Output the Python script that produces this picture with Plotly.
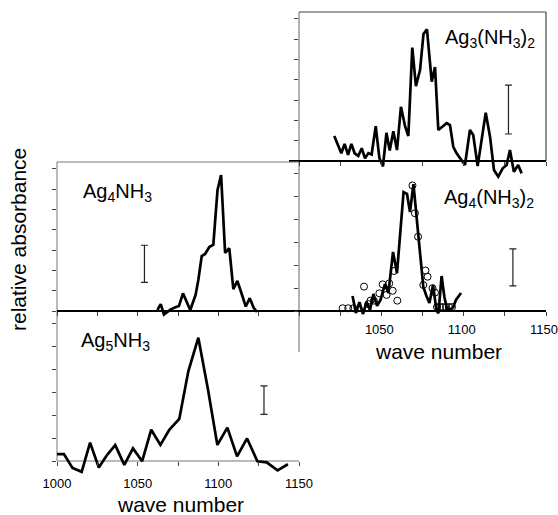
import plotly.graph_objects as go

W, H = 558, 515

# ---------------- data ----------------
# Ag3(NH3)2 (upper right)
a_wn = [1021.4, 1025.7, 1027.7, 1029.8, 1031.8, 1033.8, 1036.0, 1038.1, 1040.1, 1042.1,
        1044.1, 1046.6, 1048.8, 1051.0, 1053.1, 1055.1, 1057.3, 1059.5, 1061.9, 1064.4,
        1066.4, 1068.8, 1071.0, 1073.5, 1075.6, 1077.7, 1080.6, 1082.6, 1084.6, 1087.3,
        1089.7, 1091.7, 1093.7, 1095.7, 1098.8, 1100.8, 1103.8, 1105.8, 1108.5, 1113.4,
        1116.0, 1118.4, 1121.0, 1123.7, 1126.1, 1128.1, 1130.5, 1133.1, 1135.2]
a_abs = [1.23, 0.38, 0.84, 0.30, 0.84, 0.38, 0.25, 0.63, 0.13, 0.39,
         0.32, 1.72, 0.15, -0.27, 1.39, 0.52, 1.46, 0.54, 2.67, 1.72,
         1.23, 5.59, 3.69, 4.48, 6.26, 6.49, 3.91, 4.63, 1.53, 1.69,
         1.86, 1.77, 0.70, 0.38, 0.05, -0.20, 1.53, 1.28, -0.25, 2.38,
         1.20, -0.44, -0.77, -0.36, -0.20, 0.54, -0.53, -0.20, -0.61]

# Ag4(NH3)2 (middle right): line + open circles
b_wn = [1032.5, 1034.6, 1036.7, 1038.9, 1041.0, 1043.1, 1045.2, 1047.4, 1049.5, 1052.2,
        1054.3, 1057.1, 1059.5, 1063.5, 1065.6, 1067.4, 1069.5, 1075.5, 1077.4, 1079.2,
        1081.4, 1083.5, 1084.7, 1086.6, 1088.3, 1089.9, 1091.7, 1093.7, 1095.3, 1098.4]
b_abs = [0.65, -0.09, 0.39, -0.13, 0.39, 0.04, 0.74, 0.22, 0.48, 1.17,
         0.78, 2.57, 1.65, 5.17, 5.09, 4.30, 5.52, 1.04, 0.65, 0.35,
         1.13, 0.00, -0.09, 1.52, 0.61, 0.09, 0.04, 0.17, 0.48, 0.78]
b_circ_wn = [1026.5, 1029.9, 1033.0, 1039.5, 1042.1, 1043.4, 1045.5, 1048.8, 1050.8, 1053.2,
             1054.8, 1056.9, 1057.7, 1059.7, 1068.9, 1070.4, 1072.3, 1075.5, 1076.8, 1078.1,
             1081.1, 1082.6, 1083.8, 1085.6, 1087.4, 1089.3, 1091.1, 1092.9]
b_circ_abs = [0.12, 0.12, 0.12, 1.06, 0.30, 0.45, 0.45, 0.77, 1.16, 0.70,
              1.20, 0.88, 1.74, 0.45, 5.46, 4.25, 3.23, 1.13, 1.76, 1.49,
              0.99, 0.80, 0.17, 0.17, 0.17, 0.17, 0.17, 0.17]

# Ag4NH3 (middle left)
c_wn = [1062.2, 1064.3, 1066.3, 1070.5, 1073.8, 1075.6, 1078.1, 1080.6, 1082.6, 1085.9,
        1087.6, 1089.7, 1091.8, 1094.4, 1096.9, 1099.5, 1101.7, 1104.2, 1106.8, 1109.3,
        1111.8, 1114.5, 1117.0, 1119.5, 1121.9, 1124.0]
c_abs = [0.05, 0.34, -0.17, 0.08, 0.20, 0.25, 0.87, 0.46, 0.05, 0.79,
         1.53, 2.71, 2.81, 3.15, 3.27, 5.96, 6.70, 2.86, 3.09, 1.08,
         1.48, 0.84, 0.22, 0.63, 0.16, -0.05]

# Ag5NH3 (lower left)
d_wn = [999.8, 1004.3, 1009.6, 1015.3, 1020.5, 1025.9, 1030.8, 1036.1, 1041.7, 1047.1,
        1052.8, 1058.4, 1064.1, 1069.6, 1075.8, 1081.4, 1087.6, 1093.5, 1099.4, 1105.6,
        1111.6, 1117.8, 1124.2, 1130.0, 1136.7, 1143.1]
d_abs = [0.30, 0.30, -0.30, -0.47, 0.80, -0.28, 0.24, 0.69, -0.17, 0.55,
         -0.01, 1.36, 0.70, 1.36, 1.83, 3.90, 5.36, 3.14, 0.70, 1.45,
         0.20, 0.98, -0.01, -0.06, -0.41, -0.14]

# scale bars (centre wavenumber, centre value, half length)
bar_wn = [1127.2, 1129.9, 1054.2, 1128.3]
bar_mid = [2.535, 1.895, 2.325, 2.65]
bar_half = [1.205, 0.805, 0.915, 0.62]

labels = ["Ag<sub>3</sub>(NH<sub>3</sub>)<sub>2</sub>",
          "Ag<sub>4</sub>(NH<sub>3</sub>)<sub>2</sub>",
          "Ag<sub>4</sub>NH<sub>3</sub>",
          "Ag<sub>5</sub>NH<sub>3</sub>"]
x_ticks = [1000, 1025, 1050, 1075, 1100, 1125, 1150]

# ---------------- layout geometry (pixels) ----------------
def px(x):
    return x / W

def py(y):
    return 1 - y / H

LX0, LX1 = 57, 299      # left column x extent
RX0, RX1 = 299, 546     # right column x extent
# panel: (x0, x1, top, zero, bottom_ext, px_per_unit, n_ticks)
panels = [
    (RX0, RX1, 12, 161, 190, 20.3, 7),
    (RX0, RX1, 161, 311, 330, 23.0, 6),
    (LX0, LX1, 162, 311, 330, 20.3, 7),
    (LX0, LX1, 311, 461, 485, 23.0, 6),
]
show_labels = [False, True, False, True]
label_standoff = [0, 2, 0, 6]
label_shift = [0, -2, 0, 0]

fig = go.Figure()
FONT = "Liberation Sans, Arial, sans-serif"
series = [(a_wn, a_abs), (b_wn, b_abs), (c_wn, c_abs), (d_wn, d_abs)]

layout = dict(width=W, height=H, margin=dict(l=0, r=0, t=0, b=0, pad=0, autoexpand=False),
              paper_bgcolor="white", plot_bgcolor="rgba(0,0,0,0)", showlegend=False,
              font=dict(family=FONT, color="black"))

for i, (x0, x1, top, zero, bot, ppu, nt) in enumerate(panels):
    n = "" if i == 0 else str(i + 1)
    xa, ya = "x" + n, "y" + n
    wn, ab = series[i]
    fig.add_trace(go.Scatter(x=wn, y=ab, mode="lines", xaxis=xa, yaxis=ya,
                             line=dict(color="black", width=2.7)))
    if i == 1:
        fig.add_trace(go.Scatter(x=b_circ_wn, y=b_circ_abs, mode="markers", xaxis=xa, yaxis=ya,
                                 marker=dict(symbol="circle-open", size=7, color="black",
                                             line=dict(width=1))))
    fig.add_trace(go.Scatter(x=[bar_wn[i]], y=[bar_mid[i]], mode="markers", xaxis=xa, yaxis=ya,
                             marker=dict(size=1, opacity=0),
                             error_y=dict(type="data", array=[bar_half[i]], width=3.5,
                                          thickness=1.2, color="#222")))
    if show_labels[i]:
        ttext = [str(v) if v % 50 == 0 and not (i == 1 and v == 1000) else "" for v in x_ticks]
    else:
        ttext = ["" for v in x_ticks]
    layout["xaxis" + n] = dict(domain=[px(x0), px(x1)], range=[1000, 1150], anchor="free",
                               position=py(zero), showgrid=False, zeroline=False, showline=False,
                               ticks="outside", ticklen=4, tickwidth=1, tickcolor="#444",
                               tickvals=x_ticks, ticktext=ttext, automargin=False,
                               ticklabeloverflow="allow",
                               ticklabelstandoff=label_standoff[i],
                               ticklabelshift=label_shift[i],
                               tickfont=dict(size=13, family=FONT, color="black"))
    layout["yaxis" + n] = dict(domain=[py(bot), py(top)],
                               range=[(zero - bot) / ppu, (zero - top) / ppu],
                               anchor=xa, showgrid=False, zeroline=False, showline=False,
                               ticks="outside", ticklen=4, tickwidth=1, tickcolor="#444",
                               tickvals=list(range(nt + 1)), showticklabels=False,
                               automargin=False)

fig.update_layout(**layout)

# frame lines
def hline(x0, x1, y, color, w):
    fig.add_shape(type="line", xref="paper", yref="paper", x0=px(x0), x1=px(x1),
                  y0=py(y), y1=py(y), line=dict(color=color, width=w), layer="below")

def vline(x, y0, y1, color, w):
    fig.add_shape(type="line", xref="paper", yref="paper", x0=px(x), x1=px(x),
                  y0=py(y0), y1=py(y1), line=dict(color=color, width=w), layer="below")

hline(RX0, RX1, 12, "#444", 1.2)
vline(RX1, 12, 161, "#444", 1.2)
vline(RX0, 12, 352, "#666", 1)
hline(289, RX1, 161, "black", 2)
hline(LX0, LX1, 162, "#777", 1)
vline(LX0, 162, 461, "#777", 1)
hline(LX0, RX1, 311, "black", 1.8)
hline(LX0, LX1, 461, "#777", 1.2)

# panel labels
lab_pos = [(443, 39), (442, 199), (81, 192), (79, 341)]
for (lx, ly), t in zip(lab_pos, labels):
    fig.add_annotation(x=px(lx), y=py(ly), xref="paper", yref="paper", text=t,
                       showarrow=False, xanchor="left", yanchor="middle",
                       font=dict(size=20, family=FONT, color="black"))

# axis titles
fig.add_annotation(x=px(180), y=py(504), xref="paper", yref="paper", text="wave number",
                   showarrow=False, xanchor="center", yanchor="middle",
                   font=dict(size=21, family=FONT, color="black"))
fig.add_annotation(x=px(438), y=py(351), xref="paper", yref="paper", text="wave number",
                   showarrow=False, xanchor="center", yanchor="middle",
                   font=dict(size=21, family=FONT, color="black"))
fig.add_annotation(x=px(18), y=py(240), xref="paper", yref="paper", text="relative absorbance",
                   showarrow=False, xanchor="center", yanchor="middle", textangle=-90,
                   font=dict(size=21, family=FONT, color="black"))

fig.write_html("out.html")
